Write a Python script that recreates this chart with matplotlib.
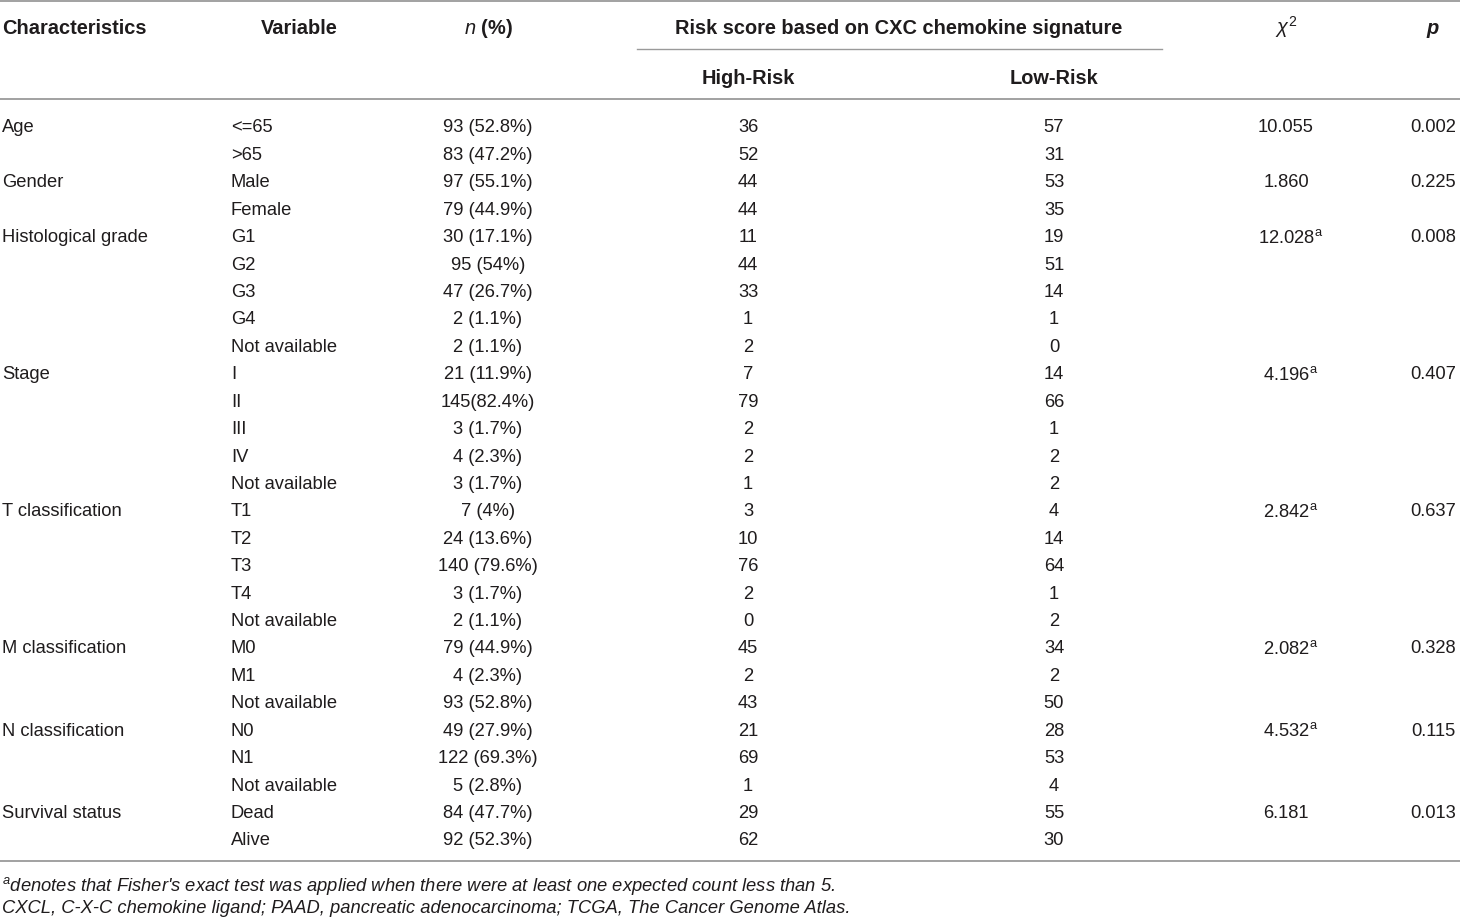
import matplotlib.pyplot as plt

plt.rcParams['font.family'] = ['Liberation Sans', 'DejaVu Sans']
plt.rcParams['mathtext.fontset'] = 'custom'
plt.rcParams['mathtext.rm'] = 'Liberation Sans'
plt.rcParams['mathtext.it'] = 'Liberation Sans:italic'

## Données du tableau
groups = ["Age", "Gender", "Histological grade", "Stage", "T classification",
          "M classification", "N classification", "Survival status"]
variables = [
    ["<=65", ">65"],
    ["Male", "Female"],
    ["G1", "G2", "G3", "G4", "Not available"],
    ["I", "II", "III", "IV", "Not available"],
    ["T1", "T2", "T3", "T4", "Not available"],
    ["M0", "M1", "Not available"],
    ["N0", "N1", "Not available"],
    ["Dead", "Alive"],
]
n_pct = [
    ["93 (52.8%)", "83 (47.2%)"],
    ["97 (55.1%)", "79 (44.9%)"],
    ["30 (17.1%)", "95 (54%)", "47 (26.7%)", "2 (1.1%)", "2 (1.1%)"],
    ["21 (11.9%)", "145(82.4%)", "3 (1.7%)", "4 (2.3%)", "3 (1.7%)"],
    ["7 (4%)", "24 (13.6%)", "140 (79.6%)", "3 (1.7%)", "2 (1.1%)"],
    ["79 (44.9%)", "4 (2.3%)", "93 (52.8%)"],
    ["49 (27.9%)", "122 (69.3%)", "5 (2.8%)"],
    ["84 (47.7%)", "92 (52.3%)"],
]
high_risk = [[36, 52], [44, 44], [11, 44, 33, 1, 2], [7, 79, 2, 2, 1],
             [3, 10, 76, 2, 0], [45, 2, 43], [21, 69, 1], [29, 62]]
low_risk = [[57, 31], [53, 35], [19, 51, 14, 1, 0], [14, 66, 1, 2, 2],
            [4, 14, 64, 1, 2], [34, 2, 50], [28, 53, 4], [55, 30]]
chi2 = ["10.055", "1.860", "12.028", "4.196", "2.842", "2.082", "4.532", "6.181"]
fisher = [False, False, True, True, True, True, True, False]
pvals = ["0.002", "0.225", "0.008", "0.407", "0.637", "0.328", "0.115", "0.013"]

footnotes = [
    r"$^{a}$denotes that Fisher's exact test was applied when there were at least one expected count less than 5.",
    "CXCL, C-X-C chemokine ligand; PAAD, pancreatic adenocarcinoma; TCGA, The Cancer Genome Atlas.",
]

W, H = 1460, 920
fig = plt.figure(figsize=(W / 100, H / 100), dpi=100)
ax = fig.add_axes([0, 0, 1, 1])
ax.set_xlim(0, W)
ax.set_ylim(H, 0)
ax.set_axis_off()

txt = '#1f1c1d'
line = '#9a9a9a'
fs = 13.2
fs_hdr = 14.4

x_char, x_var, x_n, x_hi, x_lo, x_chi, x_p = 2, 231, 488, 748, 1054, 1286, 1433

# lignes
ax.plot([0, W], [2, 2], color=line, lw=1.3)
ax.plot([637, 1162], [50, 50], color=line, lw=1.0)
ax.plot([0, W], [100, 100], color=line, lw=1.3)
ax.plot([0, W], [862, 862], color=line, lw=1.3)

# en-têtes
hdr = dict(fontsize=fs_hdr, fontweight='bold', color=txt, va='center')
ax.text(x_char, 28, "Characteristics", ha='left', **hdr)
ax.text(299, 28, "Variable", ha='center', **hdr)
ax.text(x_n, 28, r"$\mathit{n}$ (%)", ha='center', **hdr)
ax.text(899, 28, "Risk score based on CXC chemokine signature", ha='center', **hdr)
ax.text(x_chi, 27, r"$\chi^2$", ha='center', fontsize=fs_hdr, color=txt, va='center',
        family='DejaVu Serif')
ax.text(x_p, 28, "p", ha='center', style='italic', **hdr)
ax.text(x_hi, 78, "High-Risk", ha='center', **hdr)
ax.text(x_lo, 78, "Low-Risk", ha='center', **hdr)

# lignes de données
y0, dy = 128, 27.42
row = 0
body = dict(fontsize=fs, color=txt, va='center')
for g, name in enumerate(groups):
    y = y0 + row * dy
    ax.text(x_char, y, name, ha='left', **body)
    lab = chi2[g] + (r"$^{\mathrm{a}}$" if fisher[g] else "")
    ax.text(x_chi + (5 if fisher[g] else 0), y, lab, ha='center', **body)
    ax.text(x_p, y, pvals[g], ha='center', **body)
    for k, v in enumerate(variables[g]):
        y = y0 + row * dy
        ax.text(x_var, y, v, ha='left', **body)
        ax.text(x_n, y, n_pct[g][k], ha='center', **body)
        ax.text(x_hi, y, str(high_risk[g][k]), ha='center', **body)
        ax.text(x_lo, y, str(low_risk[g][k]), ha='center', **body)
        row += 1

# notes
for i, note in enumerate(footnotes):
    ax.text(2, 886 + i * 23, note, ha='left', va='center', fontsize=13.2,
            style='italic', color=txt)

fig.savefig('out.png', dpi=100)
